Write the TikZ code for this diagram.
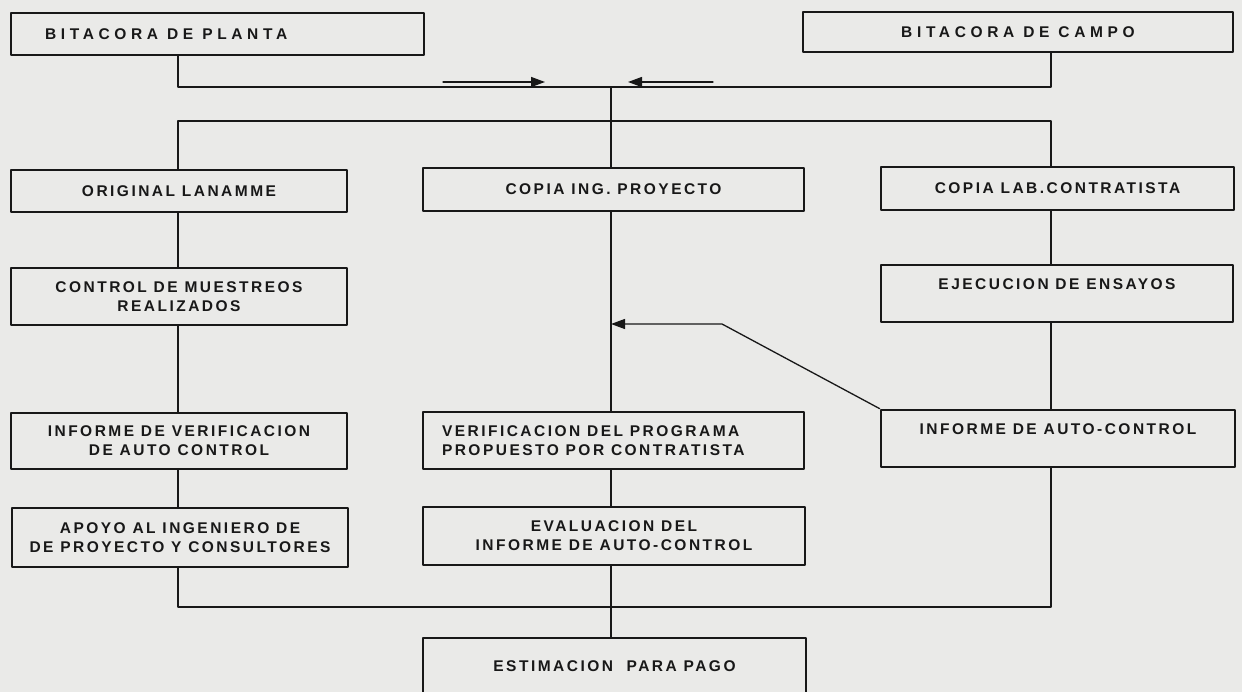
\documentclass[tikz,border=0pt]{standalone}
\usepackage{fontspec}
\setmainfont{Liberation Sans}
\newfontfamily\cajafont{Liberation Sans}[LetterSpace=16]
\newfontfamily\titulofont{Liberation Sans}[LetterSpace=30]
\usetikzlibrary{arrows.meta}
\definecolor{papel}{RGB}{234,234,232}
\definecolor{tinta}{RGB}{24,24,24}
\newcommand\izq[2]{\makebox[#1][l]{#2}}
\begin{document}
\begin{tikzpicture}[x=1pt,y=-1pt,line cap=round,line join=round,
  caja/.style={draw=tinta,line width=2.7pt,inner sep=0pt,align=center,text=tinta,
    font=\cajafont\bfseries\fontsize{15.5}{19}\selectfont},
  titulo/.style={caja,font=\titulofont\bfseries\fontsize{15.5}{19}\selectfont},
  linea/.style={draw=tinta,line width=1.3pt},
  flecha/.style={linea,-{Triangle[length=14pt,width=10pt]}}]
  \useasboundingbox (0,0) rectangle (1242,692);
  \fill[papel] (0,0) rectangle (1242,692);
  % columnas y barras
  \coordinate (lc) at (178,0); \coordinate (mc) at (611,0); \coordinate (rc) at (1051,0);
  \coordinate (bus1) at (0,87); \coordinate (bus2) at (0,121); \coordinate (bus3) at (0,607);
  % cajas
  \node[titulo,minimum width=413,minimum height=42] (planta) at (217.5,34) {\izq{345pt}{BITACORA DE PLANTA}};
  \node[titulo,minimum width=430,minimum height=40] (campo) at (1018,32) {BITACORA DE CAMPO};
  \node[caja,minimum width=336,minimum height=42] (lanamme) at (179,191) {ORIGINAL LANAMME};
  \node[caja,minimum width=381,minimum height=43] (ingproy) at (613.5,189.5) {COPIA ING. PROYECTO};
  \node[caja,minimum width=353,minimum height=43] (labcont) at (1057.5,188.5) {COPIA LAB.CONTRATISTA};
  \node[caja,minimum width=336,minimum height=57] (muestreos) at (179,296.5) {CONTROL DE MUESTREOS\\REALIZADOS};
  \node[caja,minimum width=352,minimum height=57] (ensayos) at (1057,293.5) {EJECUCION DE ENSAYOS\\\mbox{}};
  \node[caja,minimum width=336,minimum height=56] (verifac) at (179,441) {INFORME DE VERIFICACION\\DE AUTO CONTROL};
  \node[caja,minimum width=381,minimum height=57] (programa) at (613.5,440.5)
    {\izq{343pt}{VERIFICACION DEL PROGRAMA}\\\izq{343pt}{PROPUESTO POR CONTRATISTA}};
  \node[caja,minimum width=354,minimum height=57] (autocontrol) at (1058,438.5) {INFORME DE AUTO-CONTROL\\\mbox{}};
  \node[caja,minimum width=336,minimum height=59] (apoyo) at (180,537.5) {APOYO AL INGENIERO DE\\DE PROYECTO Y CONSULTORES};
  \node[caja,minimum width=382,minimum height=58] (evaluacion) at (614,536) {EVALUACION DEL\\INFORME DE AUTO-CONTROL};
  \node[caja,minimum width=383,minimum height=56] (pago) at (614.5,666) {ESTIMACION\ \ PARA PAGO};
  % conectores
  \draw[linea] (lc |- planta.south) |- (rc |- bus1) -- (rc |- campo.south);
  \draw[linea] (mc |- bus1) -- (mc |- ingproy.north);
  \draw[linea] (lc |- lanamme.north) |- (rc |- bus2) -- (rc |- labcont.north);
  \coordinate (fa1) at (443,82); \coordinate (fa2) at (545,82);
  \coordinate (fb1) at (713,82); \coordinate (fb2) at (628,82);
  \draw[flecha] (fa1) -- (fa2);
  \draw[flecha] (fb1) -- (fb2);
  \foreach \a/\b in {lanamme/muestreos,muestreos/verifac,verifac/apoyo}
    \draw[linea] (lc |- \a.south) -- (lc |- \b.north);
  \foreach \a/\b in {ingproy/programa,programa/evaluacion,evaluacion/pago}
    \draw[linea] (mc |- \a.south) -- (mc |- \b.north);
  \foreach \a/\b in {labcont/ensayos,ensayos/autocontrol}
    \draw[linea] (rc |- \a.south) -- (rc |- \b.north);
  \draw[linea] (lc |- apoyo.south) |- (rc |- bus3) -- (rc |- autocontrol.south);
  \coordinate (codo) at (722,324);
  \draw[flecha] (autocontrol.north west) -- (codo) -- (codo -| mc);
\end{tikzpicture}
\end{document}
